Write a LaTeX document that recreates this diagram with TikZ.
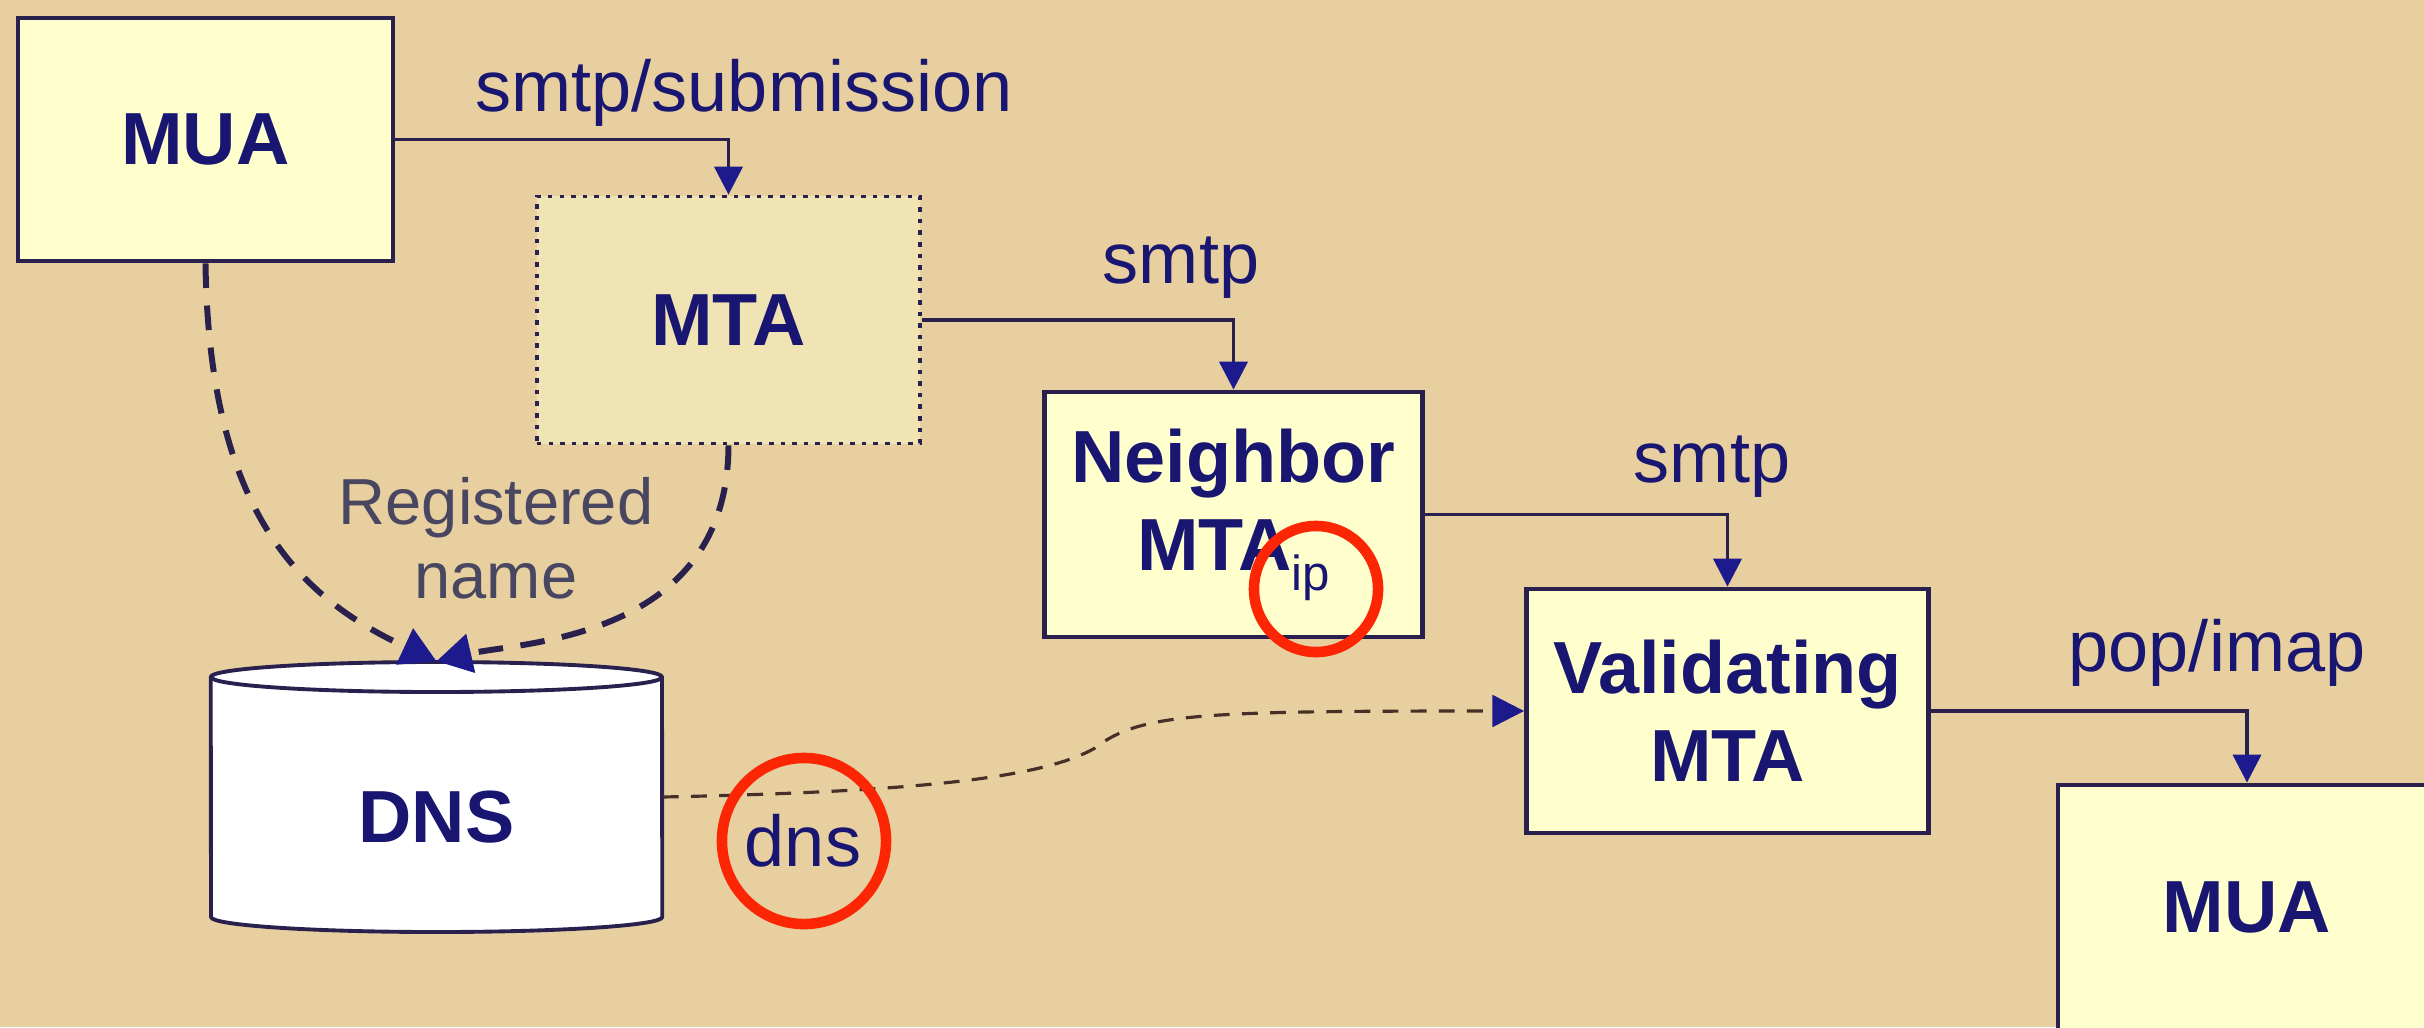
\documentclass[tikz,border=0pt]{standalone}
\usepackage{fontspec}
\setmainfont{Liberation Sans}
\usetikzlibrary{arrows.meta}

\definecolor{paper}{RGB}{232,207,160}
\definecolor{boxfill}{RGB}{255,255,206}
\definecolor{mtafill}{RGB}{240,227,180}
\definecolor{edge}{RGB}{42,32,78}
\definecolor{ink}{RGB}{24,22,112}
\definecolor{tip}{RGB}{28,26,140}
\definecolor{soft}{RGB}{72,70,96}
\definecolor{dnsdash}{RGB}{70,48,40}
\definecolor{ring}{RGB}{252,38,4}

\tikzset{
  agent/.style={draw=edge, line width=1.3pt, fill=boxfill, inner sep=0pt,
    align=center, text=ink, font=\fontsize{21pt}{25pt}\selectfont\bfseries},
  relay/.style={agent, fill=mtafill, dotted, line width=1pt},
  proto/.style={anchor=base, inner sep=0pt, text=ink,
    font=\fontsize{20.5pt}{24pt}\selectfont},
  flow/.style={draw=edge, line width=1.1pt,
    -{Triangle[width=8pt,length=8pt,color=tip]}},
  lookup/.style={draw=edge, line width=1.7pt, dash pattern=on 7pt off 5pt,
    -{Triangle[width=11pt,length=10pt,color=tip]}},
  query/.style={draw=dnsdash, line width=0.9pt, dash pattern=on 4.5pt off 3.5pt,
    -{Triangle[width=9pt,length=9pt,color=tip]}},
  ringmark/.style={draw=ring, line width=3pt},
}

\begin{document}
\begin{tikzpicture}[x=0.01cm, y=-0.01cm]
  % page and background
  \useasboundingbox (0,0) rectangle (2424,1027);
  \fill[paper] (0,0) rectangle (2424,1027);
  \clip (0,0) rectangle (2424,1027);

  % agents
  \node[agent, minimum width=3.75cm, minimum height=2.43cm] (mua1) at (205.5,139.5) {MUA};
  \node[relay, minimum width=3.83cm, minimum height=2.47cm] (mta) at (728.5,320) {MTA};
  \node[agent, minimum width=3.78cm, minimum height=2.45cm] (nb) at (1233.5,514.5)
    {Neighbor\\MTA\raisebox{-5.7pt}{\fontsize{14pt}{14pt}\selectfont\mdseries ip}};
  \node[agent, minimum width=4.02cm, minimum height=2.44cm] (val) at (1727.5,711) {Validating\\MTA};
  \node[agent, minimum width=3.78cm, minimum height=2.45cm] (mua2) at (2247,907.5) {MUA};

  % DNS store drawn as a cylinder
  \node[inner sep=0pt, minimum width=4.51cm, minimum height=2.70cm] (dns) at (436.5,797) {};
  \filldraw[draw=edge, line width=1.1pt, fill=white]
    (211,917) arc[start angle=180, end angle=360, x radius=2.255cm, y radius=0.15cm]
    -- (662,677) arc[start angle=0, end angle=180, x radius=2.255cm, y radius=0.15cm]
    -- cycle;
  \draw[edge, line width=1.1pt]
    (211,677) arc[start angle=180, end angle=360, x radius=2.255cm, y radius=0.15cm];
  \node[anchor=base, inner sep=0pt, text=ink,
    font=\fontsize{21pt}{25pt}\selectfont\bfseries] (dnstext) at (436.5,842) {DNS};

  % protocol labels
  \node[proto] (lsub) at (744,111) {smtp/submission};
  \node[proto] (lsmtp1) at (1181,283) {smtp};
  \node[proto] (lsmtp2) at (1712,482) {smtp};
  \node[proto] (lpop) at (2217,671) {pop/imap};
  \node[proto, text=soft, font=\fontsize{18.5pt}{21pt}\selectfont] (lreg1) at (496,524) {Registered};
  \node[proto, text=soft, font=\fontsize{18.5pt}{21pt}\selectfont] (lreg2) at (496,598) {name};
  \node[proto] (ldns) at (803,866) {dns};

  % mail flow
  \draw[flow] (mua1.east) -| (mta.north);
  \draw[flow] (mta.east) -| (nb.north);
  \draw[flow] (nb.east) -| (val.north);
  \draw[flow] (val.east) -| (mua2.north);

  % name registration
  \draw[lookup] (mua1.south) .. controls (209,512) and (300,598) .. (dns.north);
  \draw[lookup] (mta.south) .. controls (728,640) and (520,642) .. (dns.north);

  % dns query from the validating MTA
  \coordinate (dnsbend) at (1095,748);
  \draw[query] (dns.east) .. controls (900,792) and (1040,780) .. (dnsbend)
    .. controls (1140,713) and (1200,711) .. (val.west);

  % highlights
  \draw[ringmark] (1316,589) ellipse[x radius=0.62cm, y radius=0.63cm];
  \draw[ringmark] (804,841) ellipse[x radius=0.82cm, y radius=0.83cm];
\end{tikzpicture}
\end{document}
